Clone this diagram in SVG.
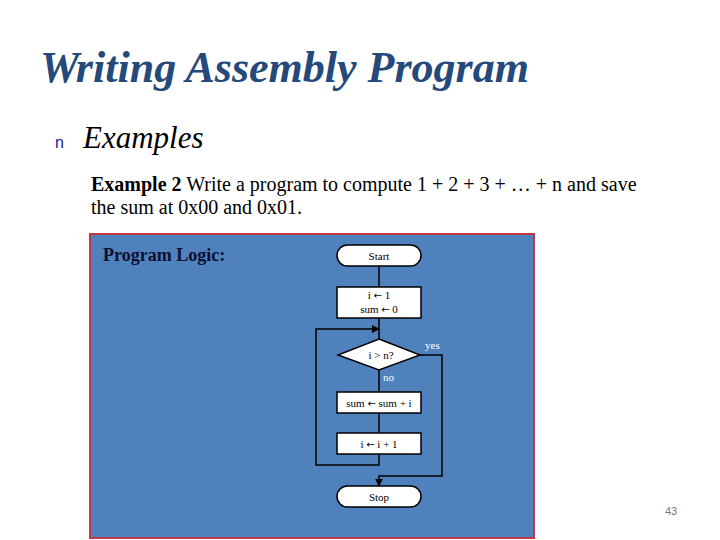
<svg xmlns="http://www.w3.org/2000/svg" width="720" height="540" viewBox="0 0 720 540">
<defs>
<style>
.serif{font-family:"Liberation Serif","Times New Roman",serif}
.node{fill:#ffffff;stroke:#000000;stroke-width:1.5}
.ft{font-family:"Liberation Serif","Times New Roman",serif;font-size:11px;fill:#000;text-anchor:middle}
.ar{font-family:"DejaVu Sans",sans-serif;font-size:10px}
.lbl{font-family:"Liberation Serif","Times New Roman",serif;font-size:11px;fill:#ffffff}
.edge{fill:none;stroke:#000000;stroke-width:1.5}
</style>
<marker id="arr" viewBox="0 0 10 10" refX="9" refY="5" markerWidth="8" markerHeight="8" orient="auto" markerUnits="userSpaceOnUse">
<path d="M0,0 L10,5 L0,10 z" fill="#000"/>
</marker>
</defs>
<rect width="720" height="540" fill="#ffffff"/>
<text class="serif" x="40" y="82" font-size="44" font-weight="bold" font-style="italic" fill="#24497A">Writing Assembly Program</text>
<text x="55" y="148" font-family="Liberation Sans, Arial, sans-serif" font-size="16" fill="#1a1aa0">n</text>
<text class="serif" x="83" y="148" font-size="31" font-style="italic" fill="#000">Examples</text>
<text class="serif" x="91" y="191" font-size="20" fill="#000"><tspan font-weight="bold">Example 2</tspan> Write a program to compute 1 + 2 + 3 + … + n and save</text>
<text class="serif" x="91" y="214" font-size="20" fill="#000">the sum at 0x00 and 0x01.</text>
<rect x="90" y="234" width="444" height="304" fill="#4F81BD" stroke="#C0394B" stroke-width="2"/>
<text class="serif" x="103" y="261" font-size="18" font-weight="bold" fill="#0d1030">Program Logic:</text>
<g id="connectors">
<line class="edge" x1="379" y1="266" x2="379" y2="287"/>
<line class="edge" x1="379" y1="318" x2="379" y2="339"/>
<polyline class="edge" points="379,454 379,465 316,465 316,329 379,329" marker-end="url(#arr)"/>
<line class="edge" x1="379" y1="370" x2="379" y2="392"/>
<line class="edge" x1="379" y1="413" x2="379" y2="433"/>
<polyline class="edge" points="420,355 442,355 442,476 379,476 379,486" marker-end="url(#arr)"/>
<text class="lbl" x="425" y="349">yes</text>
<text class="lbl" x="383" y="381">no</text>
</g>
<g id="start">
<rect class="node" x="337" y="245" width="84" height="21" rx="10.5"/>
<text class="ft" x="379" y="259.5">Start</text>
</g>
<g id="init">
<rect class="node" x="337" y="287" width="84" height="31"/>
<text class="ft" x="379" y="299">i <tspan class="ar">←</tspan> 1</text>
<text class="ft" x="379" y="313">sum <tspan class="ar">←</tspan> 0</text>
</g>
<g id="decision">
<polygon class="node" points="379,339 420,355 379,370 338,355"/>
<text class="ft" x="381" y="358.5">i &gt; n?</text>
</g>
<g id="add">
<rect class="node" x="337" y="392" width="84" height="21"/>
<text class="ft" x="379" y="406.5">sum <tspan class="ar">←</tspan> sum + i</text>
</g>
<g id="inc">
<rect class="node" x="337" y="433" width="84" height="21"/>
<text class="ft" x="379" y="447.5">i <tspan class="ar">←</tspan> i + 1</text>
</g>
<g id="stop">
<rect class="node" x="337" y="486" width="84" height="21" rx="10.5"/>
<text class="ft" x="379" y="500.5">Stop</text>
</g>
<text x="665" y="515" font-family="Liberation Sans, Arial, sans-serif" font-size="11" fill="#777">43</text>
</svg>
